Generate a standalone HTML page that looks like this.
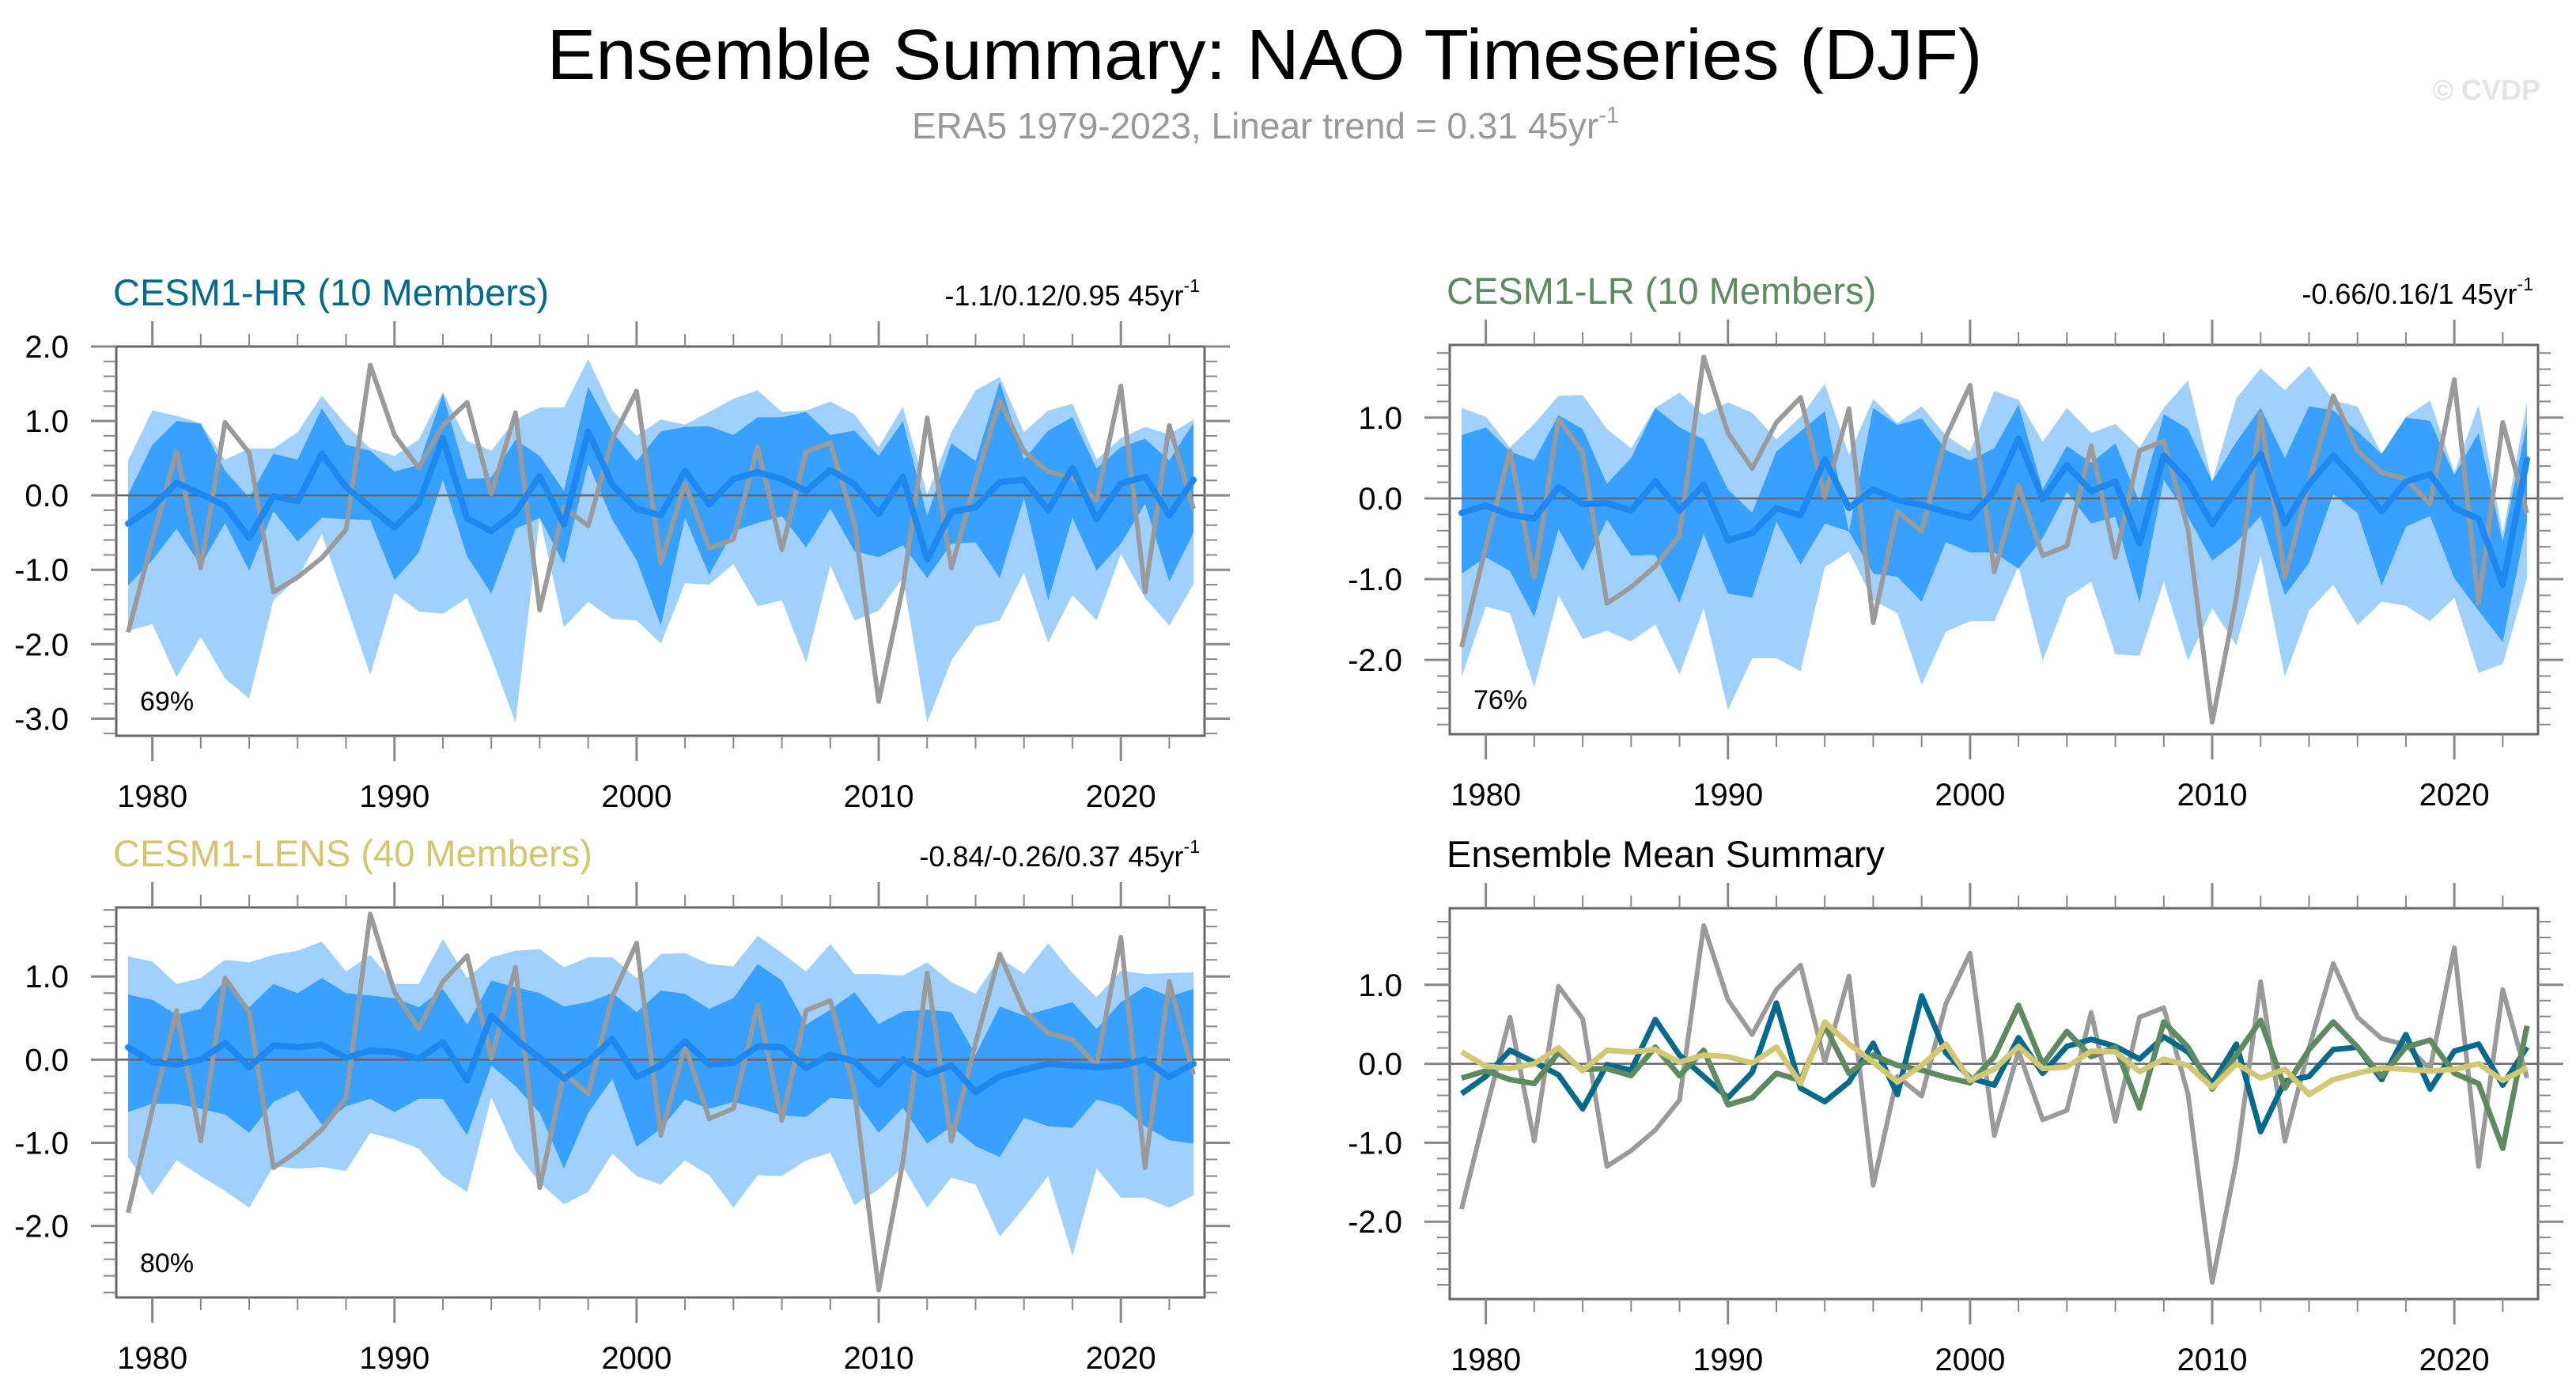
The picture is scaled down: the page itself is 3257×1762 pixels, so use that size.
<!DOCTYPE html>
<html><head><meta charset="utf-8"><style>
html,body{margin:0;padding:0;background:#fff;}
svg{display:block;font-family:"Liberation Sans",Arial,sans-serif;}
</style></head><body>
<svg id="chart" width="3257" height="1762" viewBox="0 0 3257 1762" xmlns="http://www.w3.org/2000/svg">
<rect width="3257" height="1762" fill="#fff"/>
<text x="1599" y="100" font-size="90" text-anchor="middle" textLength="1815" lengthAdjust="spacingAndGlyphs">Ensemble Summary: NAO Timeseries (DJF)</text>
<text x="1153" y="175" font-size="46" fill="#999">ERA5 1979-2023, Linear trend = 0.31 45yr<tspan font-size="29" dy="-20">-1</tspan></text>
<text x="3212" y="126" font-size="36" font-weight="bold" fill="#e4e4e4" text-anchor="end">© CVDP</text>
<g id="panels"></g>
</svg>
<script>
const years = [];
for (let y = 1979; y <= 2023; y++) years.push(y);
const era5 = [-1.84,-0.6,0.59,-0.98,0.98,0.57,-1.30,-1.10,-0.84,-0.46,1.75,0.81,0.37,0.94,1.25,0.02,1.11,-1.54,-0.16,-0.41,0.76,1.40,-0.91,0.16,-0.71,-0.59,0.65,-0.73,0.59,0.71,-0.38,-2.77,-1.23,1.04,-0.98,0.2,1.27,0.59,0.32,0.24,-0.07,1.47,-1.30,0.94,-0.18];
const hrMean = [-0.38,-0.16,0.17,0.02,-0.14,-0.57,-0.01,-0.08,0.56,0.11,-0.16,-0.43,-0.11,0.77,-0.31,-0.48,-0.23,0.26,-0.39,0.86,0.14,-0.18,-0.27,0.33,-0.12,0.22,0.31,0.22,0.06,0.34,0.15,-0.25,0.25,-0.86,-0.22,-0.16,0.18,0.21,-0.20,0.37,-0.32,0.16,0.25,-0.27,0.21];
const lrMean = [-0.18,-0.09,-0.20,-0.25,0.14,-0.07,-0.06,-0.15,0.21,-0.15,0.17,-0.52,-0.43,-0.12,-0.21,0.48,-0.12,0.11,-0.02,-0.08,-0.17,-0.24,0.09,0.74,-0.01,0.41,0.09,0.21,-0.56,0.53,0.21,-0.32,0.11,0.55,-0.31,0.18,0.53,0.21,-0.16,0.21,0.30,-0.12,-0.25,-1.07,0.48];
const lensMean = [0.15,-0.03,-0.06,0.0,0.20,-0.09,0.17,0.15,0.18,0.02,0.11,0.09,0.01,0.21,-0.25,0.53,0.25,0.02,-0.23,-0.02,0.25,-0.21,-0.07,0.22,-0.06,-0.04,0.16,0.15,-0.10,0.06,-0.02,-0.30,0.0,-0.18,-0.07,-0.39,-0.20,-0.12,-0.05,-0.07,-0.09,-0.07,0.0,-0.21,-0.05];
const hrLtU = [0.47,1.14,1.07,0.97,0.48,0.63,0.63,0.85,1.34,0.95,0.63,0.53,0.75,1.39,0.73,0.60,1.02,1.18,1.18,1.83,1.14,0.80,1.02,0.95,1.12,1.30,1.41,1.12,1.14,1.26,1.09,0.65,1.19,0.01,0.85,1.41,1.59,0.85,1.14,1.23,0.48,0.77,0.92,0.82,1.02];
const hrDkU = [0.01,0.68,1.0,0.96,0.33,-0.03,0.56,0.48,1.17,0.68,0.6,0.32,0.41,1.36,0.22,0.24,0.75,0.53,0.06,1.46,0.85,0.46,0.86,0.92,0.93,0.81,1.05,1.05,1.12,0.81,0.87,0.53,1.0,-0.28,0.70,0.46,1.53,0.48,0.87,1.05,0.36,0.65,0.76,0.47,0.97];
const hrDkL = [-1.21,-0.87,-0.45,-0.94,-0.37,-1.01,-0.21,-0.62,-0.30,-0.32,-0.33,-1.14,-0.77,0.21,-0.82,-1.32,-0.45,-0.30,-0.92,0.43,-0.33,-0.87,-1.75,-0.30,-1.07,-0.48,-0.37,-0.28,-0.70,-0.18,-0.75,-0.83,-0.67,-1.11,-0.65,-0.63,-1.11,-0.03,-1.41,-0.30,-1.01,-0.65,-0.11,-1.16,-0.50];
const hrLtL = [-1.82,-1.73,-2.44,-1.90,-2.46,-2.73,-1.41,-1.11,-0.52,-1.46,-2.41,-1.31,-1.56,-1.59,-1.38,-2.17,-3.05,-0.30,-1.77,-1.43,-1.66,-1.68,-1.99,-1.18,-1.20,-0.92,-1.49,-1.41,-2.25,-0.94,-1.68,-1.55,-1.11,-3.05,-2.22,-1.76,-1.68,-1.04,-1.98,-1.34,-1.68,-0.79,-1.38,-1.75,-1.19];
const lrLtU = [1.12,1.01,0.63,0.92,1.27,1.28,0.86,0.62,1.12,1.31,1.03,1.19,1.06,0.73,1.01,1.42,0.54,1.23,0.93,1.14,0.78,0.58,1.33,1.22,0.70,1.12,0.81,0.92,0.63,1.12,1.46,0.21,1.24,1.61,1.34,1.64,1.21,1.14,0.55,1.01,1.21,0.32,1.16,-0.44,1.19];
const lrDkU = [0.78,0.88,0.58,0.47,1.03,0.86,0.18,0.50,1.12,0.88,0.73,0.11,-0.18,0.58,0.83,1.08,-0.41,1.12,0.91,0.99,0.60,0.47,0.62,1.16,0.11,0.65,0.44,0.68,-0.05,1.04,0.86,0.21,0.70,1.12,0.50,1.14,1.09,0.83,0.55,1.0,0.96,0.29,0.81,-0.54,0.93];
const lrDkL = [-0.93,-0.73,-0.90,-1.47,-0.38,-0.90,-0.26,-0.71,-0.70,-1.29,-0.44,-1.18,-1.23,-0.29,-0.82,-0.31,-0.41,-0.93,-0.97,-1.28,-0.54,-0.67,-0.67,-0.87,-0.49,0.08,-0.31,-0.23,-1.29,0.23,-0.23,-0.77,-0.54,-0.22,-1.20,-0.80,0.05,-0.18,-1.08,-0.35,-0.22,-0.99,-1.39,-1.78,-0.28];
const lrLtL = [-2.21,-1.34,-1.42,-2.34,-1.20,-1.74,-1.64,-1.77,-1.56,-2.18,-1.36,-2.62,-1.98,-1.98,-2.14,-0.85,-0.66,-1.26,-1.42,-2.31,-1.65,-1.52,-1.52,-0.84,-2.01,-1.23,-1.03,-1.93,-1.95,-1.03,-2.01,-1.36,-1.82,-0.71,-2.21,-1.39,-1.07,-1.57,-1.28,-1.33,-1.52,-1.23,-2.16,-2.05,-1.0];
const lensLtU = [1.24,1.18,0.91,0.98,1.20,1.17,1.26,1.31,1.42,1.06,1.26,0.91,0.91,1.45,0.98,1.23,1.31,1.33,1.11,1.23,1.23,0.98,1.27,1.28,1.15,1.12,1.49,1.28,1.06,1.39,1.03,1.03,1.01,1.17,0.93,0.79,1.23,1.03,1.40,1.04,0.75,1.07,1.03,1.04,1.05];
const lensDkU = [0.78,0.72,0.54,0.61,0.95,0.63,0.91,0.80,0.98,0.80,0.77,0.74,0.63,0.85,0.42,0.95,0.87,0.80,0.64,0.69,0.80,0.57,0.83,0.79,0.61,0.74,1.15,0.95,0.42,0.60,0.81,0.43,0.58,0.60,0.57,0.06,0.64,0.53,0.61,0.69,0.37,0.69,0.88,0.76,0.85];
const lensDkL = [-0.63,-0.53,-0.53,-0.59,-0.66,-0.88,-0.51,-0.37,-0.78,-0.56,-0.47,-0.63,-0.47,-0.47,-0.91,-0.07,-0.32,-0.64,-1.31,-0.64,-0.23,-1.05,-0.83,-0.48,-0.59,-0.51,-0.58,-0.67,-0.69,-0.46,-0.48,-0.88,-0.58,-1.01,-0.80,-1.04,-1.17,-0.70,-0.80,-0.82,-0.48,-0.56,-0.80,-0.97,-1.01];
const lensLtL = [-1.17,-1.63,-1.21,-1.40,-1.58,-1.78,-1.28,-1.31,-1.29,-1.34,-0.88,-0.96,-1.07,-1.40,-1.59,-0.45,-1.10,-1.48,-1.74,-1.59,-1.13,-1.40,-1.50,-1.21,-1.39,-1.78,-1.39,-1.40,-1.21,-1.12,-1.75,-1.56,-1.29,-1.78,-1.42,-1.50,-2.13,-1.78,-1.40,-2.36,-1.31,-1.66,-1.66,-1.78,-1.63];
const xTickLabels = [1980,1990,2000,2010,2020];

const NS = 'http://www.w3.org/2000/svg';
const root = document.getElementById('panels');
function mk(tag, attrs, parent) {
  const e = document.createElementNS(NS, tag);
  for (const k in attrs) e.setAttribute(k, attrs[k]);
  (parent || root).appendChild(e);
  return e;
}
const W = 1376;
const panels = [
  {id:'cesm1-hr', left:147, top:438, bottom:930, ymin:-3.23, ymax:2.0, yl:[2,1,0,-1,-2,-3],
   title:'CESM1-HR (10 Members)', tcolor:'#00698c', trend:'-1.1/0.12/0.95 45yr', pct:'69%',
   bands:[hrLtU,hrDkU,hrDkL,hrLtL], mean:hrMean},
  {id:'cesm1-lr', left:1833, top:436, bottom:928, ymin:-2.92, ymax:1.90, yl:[1,0,-1,-2],
   title:'CESM1-LR (10 Members)', tcolor:'#5d8a60', trend:'-0.66/0.16/1 45yr', pct:'76%',
   bands:[lrLtU,lrDkU,lrDkL,lrLtL], mean:lrMean},
  {id:'cesm1-lens', left:147, top:1147, bottom:1640, ymin:-2.86, ymax:1.83, yl:[1,0,-1,-2],
   title:'CESM1-LENS (40 Members)', tcolor:'#d4c670', trend:'-0.84/-0.26/0.37 45yr', pct:'80%',
   bands:[lensLtU,lensDkU,lensDkL,lensLtL], mean:lensMean},
  {id:'ensemble-mean', left:1833, top:1148, bottom:1642, ymin:-2.98, ymax:1.97, yl:[1,0,-1,-2],
   title:'Ensemble Mean Summary', tcolor:'#000', trend:null, pct:null, bands:null, mean:null}
];

panels.forEach(p => {
  const g = mk('g', {});
  
  
  const H = p.bottom - p.top;
  const xs = yr => p.left + 15 + (yr - 1979) * (W - 29) / 44;
  const ys = v => p.top + (p.ymax - v) / (p.ymax - p.ymin) * H;
  const lineD = arr => arr.map((v,i) => (i?'L':'M') + xs(years[i]).toFixed(1) + ',' + ys(v).toFixed(1)).join('');
  const bandD = (up, lo) => {
    let d = up.map((v,i) => (i?'L':'M') + xs(years[i]).toFixed(1) + ',' + ys(v).toFixed(1)).join('');
    for (let i = lo.length - 1; i >= 0; i--) d += 'L' + xs(years[i]).toFixed(1) + ',' + ys(lo[i]).toFixed(1);
    return d + 'Z';
  };
  const t = mk('text', {x:p.left-4, y:p.top-52, 'font-size':47, fill:p.tcolor}, g);
  t.textContent = p.title;
  
  
  if (p.trend) {
    const tr = mk('text', {x:p.left+W-6, y:p.top-52, 'font-size':36, 'text-anchor':'end'}, g);
    tr.textContent = p.trend;
    const sup = mk('tspan', {'font-size':23, dy:-17}, tr);
    sup.textContent = '-1';
    
    
  }
  if (p.bands) {
    const b1 = mk('path', {d:bandD(p.bands[0], p.bands[3]), fill:'#a0d0fe'}, g);
    
    
    const b2 = mk('path', {d:bandD(p.bands[1], p.bands[2]), fill:'#38a0fe'}, g);
    
    
  }
  const z = mk('line', {x1:p.left, x2:p.left+W, y1:ys(0), y2:ys(0), stroke:'#666', 'stroke-width':2.5}, g);
  
  
  const obs = mk('path', {d:lineD(era5), fill:'none', stroke:'#9a9a9a', 'stroke-width':6, 'stroke-linejoin':'round'}, g);
  
  
  if (p.mean) {
    const m = mk('path', {d:lineD(p.mean), fill:'none', stroke:'#1e88f0', 'stroke-width':8, 'stroke-linejoin':'round', 'stroke-linecap':'round'}, g);
    
    
  } else {
    const series = [[hrMean,'#00698c','hr'],[lrMean,'#5d8a60','lr'],[lensMean,'#d2c774','lens']];
    series.forEach(s => {
      const l = mk('path', {d:lineD(s[0]), fill:'none', stroke:s[1], 'stroke-width':7, 'stroke-linejoin':'round'}, g);
      
      
    });
  }
  const fr = mk('rect', {x:p.left, y:p.top, width:W, height:H, fill:'none', stroke:'#666', 'stroke-width':3}, g);
  
  
  const vmin = Math.ceil(p.ymin*5), vmax = Math.floor(p.ymax*5);
  for (let k = vmin; k <= vmax; k++) {
    const v = k/5, major = (k % 5 === 0), len = major ? 32 : 16, y = ys(v);
    mk('line', {x1:p.left-len, x2:p.left, y1:y, y2:y, stroke:'#888', 'stroke-width':major?3:2}, g);
    mk('line', {x1:p.left+W, x2:p.left+W+len, y1:y, y2:y, stroke:'#888', 'stroke-width':major?3:2}, g);
  }
  p.yl.forEach(v => {
    const tl = mk('text', {x:p.left-60, y:ys(v)+14, 'font-size':40, 'text-anchor':'end'}, g);
    tl.textContent = v.toFixed(1);
    
    
  });
  for (let yr = 1980; yr <= 2022; yr += 2) {
    const major = yr % 10 === 0, len = major ? 32 : 16, x = xs(yr);
    mk('line', {x1:x, x2:x, y1:p.bottom, y2:p.bottom+len, stroke:'#888', 'stroke-width':major?3:2}, g);
    mk('line', {x1:x, x2:x, y1:p.top-len, y2:p.top, stroke:'#888', 'stroke-width':major?3:2}, g);
  }
  xTickLabels.forEach(yr => {
    const xl = mk('text', {x:xs(yr), y:p.bottom+90, 'font-size':40, 'text-anchor':'middle'}, g);
    xl.textContent = yr;
    
    
  });
  if (p.pct) {
    const pc = mk('text', {x:p.left+30, y:p.bottom-32, 'font-size':34}, g);
    pc.textContent = p.pct;
    
    
  }
});
</script>
</body></html>
